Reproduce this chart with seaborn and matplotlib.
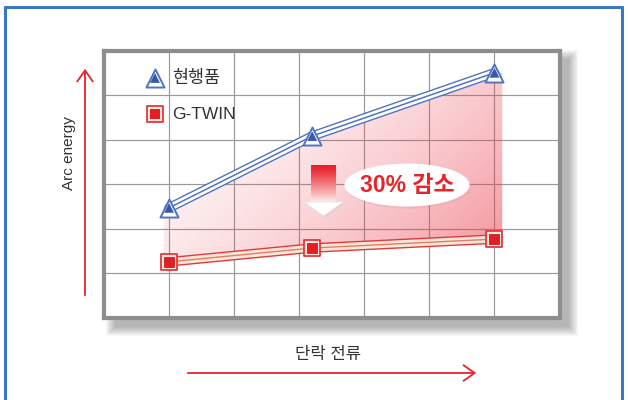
import numpy as np
import pandas as pd
import matplotlib
matplotlib.use("Agg")
import matplotlib.pyplot as plt
import seaborn as sns
from matplotlib import patheffects as pe
from matplotlib.patches import Ellipse, Rectangle, Polygon, PathPatch, FancyArrowPatch
from matplotlib.lines import Line2D

# ---- data ----
series_names = ["현행품", "G-TWIN"]
current_x = [1.0, 3.2, 6.0]
current_y = [2.47, 4.08, 5.50]
gtwin_x = [1.0, 3.2, 6.0]
gtwin_y = [1.26, 1.57, 1.77]
x_label = "단락 전류"
y_label = "Arc energy"
reduction_label = "30% 감소"

sns.set_theme(style="white")
plt.rcParams["font.family"] = ["Liberation Sans", "Noto Sans CJK KR", "DejaVu Sans"]

W, H = 628, 400
fig = plt.figure(figsize=(W / 100, H / 100), dpi=100)
fig.patch.set_facecolor("white")

def fx(px):
    return px / W

def fy(py):
    return 1 - py / H

# axes (frame centre line)
L, R, T, B = 104, 559.5, 50.5, 318
ax = fig.add_axes([fx(L), fy(B), (R - L) / W, (B - T) / H])

# drop shadow behind frame (right and bottom only)
for k in range(10):
    e = 10 - k
    r = Rectangle((fx(116 - e), fy(326 + e)), (452 + 2 * e) / W, (266 + 2 * e) / H,
                  transform=fig.transFigure, facecolor="black", edgecolor="none",
                  alpha=0.03, zorder=-2)
    fig.add_artist(r)

# blue page border
bc = "#3a78c3"
fig.add_artist(Line2D([fx(5), fx(5)], [0, fy(7)], color=bc, lw=2.2, transform=fig.transFigure))
fig.add_artist(Line2D([fx(5), fx(622)], [fy(7), fy(7)], color=bc, lw=2.2, transform=fig.transFigure))
fig.add_artist(Line2D([fx(622), fx(622)], [0, fy(7)], color=bc, lw=2.2, transform=fig.transFigure))

ax.set_facecolor("white")
ax.set_xlim(0, 7)
ax.set_ylim(0, 6)
ax.set_xticks(range(1, 7))
ax.set_yticks(range(1, 6))
ax.set_xticklabels([])
ax.set_yticklabels([])
ax.tick_params(length=0)
ax.grid(True, color="#999999", lw=0.85)
ax.set_axisbelow(True)
for s in ax.spines.values():
    s.set_color("#8e8e8e")
    s.set_linewidth(3)

# gradient fill between series
xs = np.linspace(0.92, 6.12, 300)
up = np.interp(xs, current_x, current_y)
lo = np.interp(xs, gtwin_x, gtwin_y)
poly = ax.fill_between(xs, lo, up, color="none", lw=0)
clip = PathPatch(poly.get_paths()[0], transform=ax.transData, facecolor="none", edgecolor="none")
ax.add_patch(clip)
gx, gy = np.meshgrid(np.linspace(0.9, 6.15, 300), np.linspace(1.0, 5.8, 300))
t = 0.6 * (gx - 0.9) / 5.25 + 0.4 * (5.8 - gy) / 4.8
t = np.clip(t, 0, 1)
img = np.zeros(gx.shape + (4,))
img[..., 0] = 0.92
img[..., 1] = 0.22
img[..., 2] = 0.28
img[..., 3] = 0.02 + 0.55 * t ** 1.7
im = ax.imshow(img, extent=[0.9, 6.15, 1.0, 5.8], origin="lower", aspect="auto", zorder=1.5)
im.set_clip_path(clip)

# lines
blue = "#4f74c2"
red = "#e2393f"
df = pd.DataFrame({
    "x": current_x + gtwin_x,
    "y": current_y + gtwin_y,
    "series": [series_names[0]] * len(current_x) + [series_names[1]] * len(gtwin_x),
})
sns.lineplot(data=df[df.series == series_names[0]], x="x", y="y", color=blue, lw=1.1,
             ax=ax, legend=False, zorder=4)
sns.lineplot(data=df[df.series == series_names[1]], x="x", y="y", color="#d9806a", lw=1.0,
             ax=ax, legend=False, zorder=4)
ax.lines[-2].set_path_effects([pe.Stroke(linewidth=7, foreground=blue),
                               pe.Stroke(linewidth=5, foreground="white"), pe.Normal()])
ax.lines[-1].set_path_effects([pe.Stroke(linewidth=7, foreground=red),
                               pe.Stroke(linewidth=5, foreground="#fce6d8"), pe.Normal()])

# markers
sns.scatterplot(x=current_x, y=current_y, marker="^", s=13 ** 2, color="white",
                edgecolor=blue, linewidth=1.4, ax=ax, zorder=5)
sns.scatterplot(x=current_x, y=current_y, marker="^", s=7 ** 2, color="#3558a8",
                edgecolor="none", ax=ax, zorder=6)
sns.scatterplot(x=gtwin_x, y=gtwin_y, marker="s", s=12 ** 2, color="#fde9dc",
                edgecolor=red, linewidth=1.3, ax=ax, zorder=5)
sns.scatterplot(x=gtwin_x, y=gtwin_y, marker="s", s=7 ** 2, color="#e31e25",
                edgecolor="#b01018", linewidth=0.5, ax=ax, zorder=6)
ax.set_xlabel("")
ax.set_ylabel("")

# legend (manual)
def ax_fx(px):
    return (px - L) / (R - L)

def ax_fy(py):
    return (B - py) / (B - T)

lx = ax_fx(155)
ax.scatter([lx], [ax_fy(78)], marker="^", s=13 ** 2, color="white", edgecolor=blue,
           linewidth=1.4, transform=ax.transAxes, zorder=7)
ax.scatter([lx], [ax_fy(78)], marker="^", s=7 ** 2, color="#3558a8", edgecolor="none",
           transform=ax.transAxes, zorder=8)
ax.scatter([lx], [ax_fy(114)], marker="s", s=12 ** 2, color="#fde9dc", edgecolor=red,
           linewidth=1.3, transform=ax.transAxes, zorder=7)
ax.scatter([lx], [ax_fy(114)], marker="s", s=7 ** 2, color="#e31e25", edgecolor="none",
           transform=ax.transAxes, zorder=8)
ax.text(ax_fx(172), ax_fy(78), series_names[0], transform=ax.transAxes, ha="left",
        va="center", fontsize=12.5, color="#333333", zorder=8)
ax.text(ax_fx(172), ax_fy(114), series_names[1], transform=ax.transAxes, ha="left",
        va="center", fontsize=12.5, color="#333333", zorder=8)

# down arrow with gradient shaft
sx0, sx1 = ax_fx(311), ax_fx(336)
sy0, sy1 = ax_fy(202), ax_fy(165)
grad = np.zeros((100, 2, 4))
tt = np.linspace(0, 1, 100)[:, None]
grad[..., 0] = 0.91 + (0.995 - 0.91) * (1 - tt)
grad[..., 1] = 0.12 + (0.93 - 0.12) * (1 - tt) ** 1.2
grad[..., 2] = 0.16 + (0.93 - 0.16) * (1 - tt) ** 1.2
grad[..., 3] = 1
ax.imshow(grad, extent=[sx0, sx1, sy0, sy1], origin="lower", aspect="auto",
          transform=ax.transAxes, zorder=7)
ax.add_patch(Polygon([(ax_fx(306), ax_fy(204)), (ax_fx(345), ax_fy(204)), (ax_fx(325.5), ax_fy(218))],
                     closed=True, transform=ax.transAxes, facecolor="#cccccc", edgecolor="none",
                     alpha=0.4, zorder=7))
ax.add_patch(Polygon([(ax_fx(304), ax_fy(202)), (ax_fx(343), ax_fy(202)), (ax_fx(323.5), ax_fy(216))],
                     closed=True, transform=ax.transAxes, facecolor="white", edgecolor="#e6e6e6",
                     lw=0.6, zorder=7.5))

# ellipse label
ecx, ecy = ax_fx(407), ax_fy(185)
ax.add_patch(Ellipse((ecx + 0.003, ecy - 0.008), 125 / (R - L), 43 / (B - T), transform=ax.transAxes,
                     facecolor="#d9a0a4", edgecolor="none", alpha=0.25, zorder=7))
ax.add_patch(Ellipse((ecx, ecy), 125 / (R - L), 43 / (B - T), transform=ax.transAxes,
                     facecolor="white", edgecolor="none", zorder=7.5))
ax.text(ecx, ecy, reduction_label, transform=ax.transAxes, ha="center", va="center",
        fontsize=16.5, fontweight="bold", color="#e8232a", zorder=8)

ax.set_xlim(0, 7)
ax.set_ylim(0, 6)

# axis arrows and labels
arrow_red = "#e8232a"
fig.add_artist(FancyArrowPatch((fx(85), fy(298)), (fx(85), fy(66)), transform=fig.transFigure,
                               arrowstyle="->,head_length=5,head_width=3.5", color=arrow_red,
                               lw=1.3, mutation_scale=1.6))
fig.add_artist(FancyArrowPatch((fx(185), fy(373)), (fx(479), fy(373)), transform=fig.transFigure,
                               arrowstyle="->,head_length=5,head_width=3.5", color=arrow_red,
                               lw=1.3, mutation_scale=1.6))
fig.text(fx(69), fy(153), y_label, rotation=90, ha="center", va="center", fontsize=11,
         color="#333333")
fig.text(fx(328), fy(355), x_label, ha="center", va="center", fontsize=12, color="#333333")

fig.savefig("out.png", dpi=100)
